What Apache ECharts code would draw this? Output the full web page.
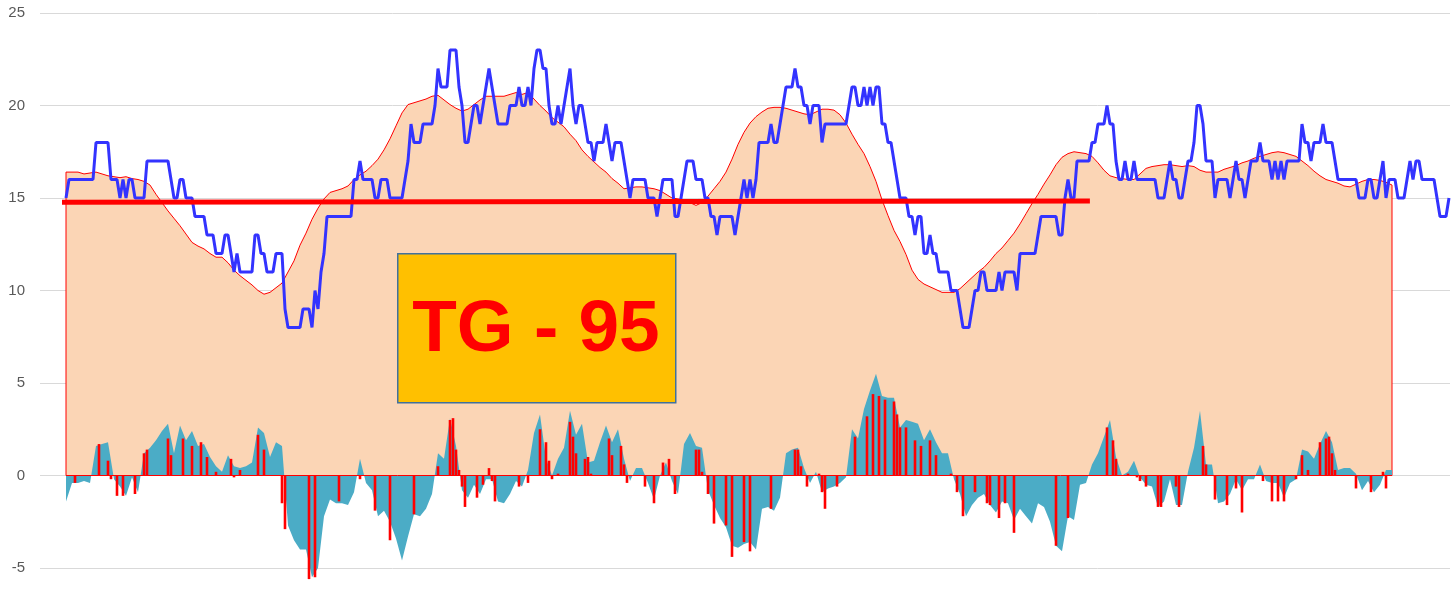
<!DOCTYPE html>
<html><head><meta charset="utf-8">
<script src="https://cdn.jsdelivr.net/npm/echarts/dist/echarts.min.js"></script>
<style>html,body{margin:0;padding:0;background:#fff}#c{width:1454px;height:613px}</style>
</head><body><div id="c"></div>
<script>
// daily temperature (one value per day, day index 0..461)
const blueTemps = [
15,16,16,16,16,16,16,16,16,16, 18,18,18,18,18,16,16,16,15,16,
15,16,16,15,15,15,15,17,17,17, 17,17,17,17,17,16,15,15,16,16,
15,15,15,14,14,14,14,13,13,13, 12,12,12,13,13,12,11,12,11,11,
11,11,11,13,13,12,12,11,11,11, 12,12,12,9,8,8,8,8,8,9,
9,9,8,10,9,11,12,14,14,14, 14,14,14,14,14,14,16,16,17,16,
16,16,16,15,15,16,16,16,15,15, 15,15,15,16,17,19,18,18,18,19,
19,19,19,20,22,21,21,21,23,23, 23,21,20,18,18,19,20,20,19,20,
21,22,21,20,19,19,19,19,20,20, 20,21,20,20,21,20,22,23,23,22,
22,20,19,19,20,19,20,21,22,20, 19,20,20,19,18,18,17,18,18,18,
19,18,17,18,18,18,17,16,15,16, 16,16,16,16,15,15,15,14,15,16,
16,16,16,14,14,15,16,17,17,17, 16,16,16,15,15,14,14,13,14,14,
14,14,14,13,14,15,16,15,16,15, 16,18,18,18,18,19,18,18,19,20,
21,21,21,22,21,21,20,20,19,20, 20,20,18,19,19,19,19,19,19,19,
19,20,21,21,20,20,21,20,21,20, 21,21,19,19,18,18,17,16,15,15,
15,14,14,13,14,14,12,12,13,12, 12,11,11,11,11,10,10,10,9,8,
8,8,9,10,10,11,11,10,10,10, 10,11,10,11,11,11,11,10,12,12,
12,12,12,12,13,14,14,14,14,14, 14,13,13,15,16,15,15,17,17,17,
17,17,18,18,19,19,19,20,19,19, 17,16,16,17,16,16,17,16,16,16,
16,16,16,16,15,15,15,16,17,16, 16,15,15,16,17,17,18,20,20,19,
17,17,17,15,16,16,16,16,15,16, 17,16,16,15,16,17,17,17,18,17,
17,17,16,17,16,17,16,17,17,17, 17,17,19,18,18,17,18,18,18,19,
18,18,18,17,16,16,16,16,16,16, 16,15,15,15,16,16,15,15,16,17,
15,16,16,16,15,15,15,16,17,16, 17,17,16,16,16,16,16,15,14,14,
14,15
];
// smoothed temperature, one value every 2 days
const smoothStep = 2;
const smoothVals = [
16.4,16.4,16.4,16.3,16.35,16.4,16.3,16.2,16.15,16.1,
16.15,16.05,16.0,15.9,15.7,15.2,14.75,14.3,13.9,13.5,
13.05,12.6,12.4,12.25,12.0,11.8,11.8,11.5,11.1,10.8,
10.55,10.3,10.0,9.8,9.9,10.15,10.4,11.0,11.6,12.45,
13.1,13.85,14.45,14.95,15.3,15.4,15.5,15.65,16.0,16.25,
16.45,16.75,17.1,17.6,18.2,18.9,19.6,20.05,20.15,20.25,
20.35,20.5,20.55,20.3,20.05,19.85,19.7,19.8,20.05,20.3,
20.5,20.5,20.5,20.5,20.6,20.7,20.6,20.7,20.35,20.0,
19.7,19.35,19.1,18.85,18.45,18.1,17.6,17.25,16.95,16.65,
16.4,16.05,15.8,15.5,15.55,15.6,15.6,15.55,15.5,15.4,
15.2,15.0,14.95,14.9,14.75,14.6,14.75,15.1,15.5,15.9,
16.4,17.1,17.9,18.55,19.05,19.4,19.65,19.85,19.9,19.9,
19.85,19.75,19.65,19.55,19.5,19.65,19.8,19.8,19.75,19.5,
19.05,18.45,17.9,17.4,16.7,15.9,14.9,14.05,13.25,12.65,
11.95,11.1,10.6,10.35,10.2,10.05,9.9,9.9,9.9,10.1,
10.4,10.7,11.0,11.25,11.6,12.0,12.3,12.7,13.1,13.6,
14.15,14.7,15.2,15.75,16.25,16.8,17.2,17.4,17.5,17.45,
17.4,17.25,16.9,16.5,16.2,16.1,16.05,16.0,16.0,16.3,
16.6,16.7,16.75,16.8,16.8,16.75,16.7,16.75,16.7,16.5,
16.4,16.4,16.4,16.55,16.65,16.75,16.9,17.0,17.15,17.25,
17.35,17.45,17.5,17.45,17.35,17.25,17.0,16.75,16.45,16.2,
16.0,15.9,15.8,15.65,15.6,15.75,15.9,16.0,16.0,15.95,
15.85,15.7
];
// anomaly, one value every 2 days
const anomalyVals = [
-1.4,-0.4,-0.4,-0.3,-0.4,1.6,1.7,1.8,-0.2,-0.6,
-1.1,-0.1,-0.9,1.2,1.5,1.9,2.4,2.8,1.2,2.7,
1.9,2.4,1.6,1.7,1.0,0.5,0.2,1.1,0.5,0.4,
0.5,0.7,2.6,2.3,1.0,1.8,1.6,-2.7,-3.5,-4.0,
-4.0,-5.5,-5.0,-2.2,-1.3,-1.5,-1.5,-1.6,-0.9,0.9,
-0.4,-0.8,-2.2,-1.9,-2.5,-3.4,-4.6,-3.3,-2.1,-2.2,
-1.8,-1.0,1.2,0.9,3.1,1.6,-0.8,-1.2,-0.5,-1.0,
-0.2,-0.2,-1.4,-1.5,-1.0,-0.3,-0.6,0.3,2.3,3.3,
0.9,0.0,0.9,1.5,3.5,2.2,2.8,0.7,0.8,1.8,
2.7,1.8,2.5,0.9,-0.3,0.4,0.4,-0.4,-1.3,0.0,
0.7,-0.3,-1.0,1.7,2.3,1.6,1.5,-0.8,-1.6,-2.3,
-2.8,-3.8,-3.9,-3.7,-3.6,-4.0,-1.8,-1.7,-1.9,-1.2,
1.2,1.4,1.5,0.4,-0.4,0.2,-0.9,-0.7,-0.6,-0.4,
-0.1,2.5,2.0,3.6,4.6,5.5,4.3,4.2,4.2,2.6,
3.0,2.9,2.8,1.9,2.5,1.8,1.2,1.2,-0.2,-1.0,
-2.2,-1.6,-1.2,-1.0,-1.6,-2.0,-1.4,-1.5,-2.4,-1.8,
-2.2,-2.6,-1.5,-1.7,-2.5,-3.8,-4.1,-2.2,-2.4,-0.5,
-0.4,0.6,1.2,2.1,3.0,1.0,0.0,0.2,0.8,-0.1,
-0.5,-0.6,-1.7,-1.4,-0.2,-1.6,-1.6,0.2,1.5,3.5,
0.6,0.6,-1.5,-1.4,-1.0,-0.2,-0.8,-0.2,-0.2,0.6,
-0.3,-0.4,-0.4,-1.2,-0.4,-0.2,1.4,1.3,0.9,1.7,
2.4,1.8,0.3,0.4,0.4,0.1,-0.8,-0.3,-0.9,-0.5,
0.3,0.3
];
// red columns (day index, value)
const barDays = [3,11,14,15,17,19,23,26,27,34,35,39,42,45,47,50,55,56,58,64,66,72,73,81,83,91,98,103,108,116,124,128,129,130,131,132,133,137,139,141,142,143,151,154,158,160,161,162,164,168,169,170,173,174,175,181,182,185,186,187,193,196,199,201,203,210,211,212,214,216,220,222,226,228,235,243,244,245,247,251,252,253,257,263,267,269,271,273,276,277,278,280,283,285,288,290,295,297,299,303,307,308,311,313,316,330,334,347,349,350,354,357,358,360,364,365,370,371,379,380,383,387,390,392,399,402,404,406,410,412,414,418,420,421,422,423,430,435,439,440];
const barVals = [-0.4,1.7,0.8,-0.2,-1.1,-1.1,-1.0,1.2,1.4,2.0,1.1,2.0,1.6,1.8,1.0,0.2,0.9,-0.1,0.3,2.2,1.4,-1.5,-2.9,-5.6,-5.5,-1.4,-0.2,-1.9,-3.5,-2.1,0.5,3.0,3.1,1.4,0.3,-0.6,-1.7,-1.2,-0.5,0.4,-0.3,-1.4,-0.6,-0.4,2.5,1.8,0.8,-0.2,0.1,2.9,2.1,1.2,0.9,1.0,0.1,2.0,1.1,1.6,0.6,-0.4,-0.6,-1.5,0.7,0.9,-1.0,1.4,1.4,0.2,-1.0,-2.6,-2.7,-4.4,-3.6,-4.1,-1.8,1.4,1.4,0.5,-0.6,0.1,-0.9,-1.8,-0.6,2.1,3.2,4.4,4.3,4.1,4.0,3.3,2.6,2.6,1.9,1.6,1.9,1.1,0.1,-0.9,-2.2,-0.9,-1.5,-1.6,-2.3,-1.5,-3.1,-3.8,-2.3,2.6,1.9,0.9,0.1,-0.1,-0.3,-0.6,-1.7,-1.7,-0.6,-1.7,1.6,0.6,-1.3,-1.6,-0.7,-2.0,-0.3,-1.4,-1.4,-1.4,-0.2,1.1,0.3,1.8,2.0,2.1,1.2,0.3,-0.7,-0.9,0.2,-0.7];
// trend line end points (day, value)
const trendDays = [-1.33, 341.3];
const trendVals = [14.77, 14.84];
const yMin = -5, yMax = 25, yStep = 5;
const labelText = 'TG - 95';

const lastSmoothDay = (smoothVals.length - 1) * smoothStep;
const peachData = [[0, 0]].concat(smoothVals.map((v, i) => [i * smoothStep, v]), [[lastSmoothDay, 0]]);
const tealData = anomalyVals.map((v, i) => [i * smoothStep, v]);
const barData = barDays.map((d, i) => [d, barVals[i]]);
const blueData = blueTemps.map((v, i) => [i, v]);
const trendData = trendDays.map((d, i) => [d, trendVals[i]]);

const chart = echarts.init(document.getElementById('c'), null, {renderer: 'canvas'});
chart.setOption({
  animation: false,
  backgroundColor: '#ffffff',
  grid: {left: 40, right: 4, top: 13, bottom: 45, containLabel: false},
  xAxis: {type: 'value', min: -26 / 3, max: 1384 / 3, show: false},
  yAxis: {
    type: 'value', min: yMin, max: yMax, interval: yStep,
    axisLine: {show: false}, axisTick: {show: false},
    axisLabel: {color: '#595959', fontSize: 15, fontFamily: 'Liberation Sans, Arial, sans-serif', margin: 15},
    splitLine: {lineStyle: {color: '#D9D9D9', width: 1}}
  },
  series: [
    {type: 'line', data: peachData, showSymbol: false, z: 1,
     lineStyle: {color: '#FF0000', width: 1}, areaStyle: {color: '#FBD5B5', opacity: 1}},
    {type: 'line', data: tealData, showSymbol: false, z: 2, clip: false,
     lineStyle: {width: 0, opacity: 0}, areaStyle: {color: '#4BACC6', opacity: 1}},
    {type: 'line', data: [[0, 0], [lastSmoothDay, 0]], showSymbol: false, z: 3,
     lineStyle: {color: '#FF0000', width: 1}},
    {type: 'bar', data: barData, barWidth: 2.6, z: 4, clip: false, itemStyle: {color: '#FF0000'}},
    {type: 'line', data: blueData, showSymbol: false, z: 5,
     lineStyle: {color: '#3333FF', width: 3}},
    {type: 'line', data: trendData, showSymbol: false, z: 6,
     lineStyle: {color: '#FF0000', width: 5}}
  ],
  graphic: [
    {type: 'rect', left: 397, top: 253, z: 100,
     shape: {width: 278, height: 149},
     style: {fill: '#FFC000', stroke: '#41719C', lineWidth: 1.5}},
    {type: 'text', x: 536, y: 331, z: 101,
     style: {text: labelText, fill: '#FF0000', font: 'bold 73px "Liberation Sans", Arial, sans-serif',
             align: 'center', verticalAlign: 'middle'}}
  ]
});
</script>
</body></html>
